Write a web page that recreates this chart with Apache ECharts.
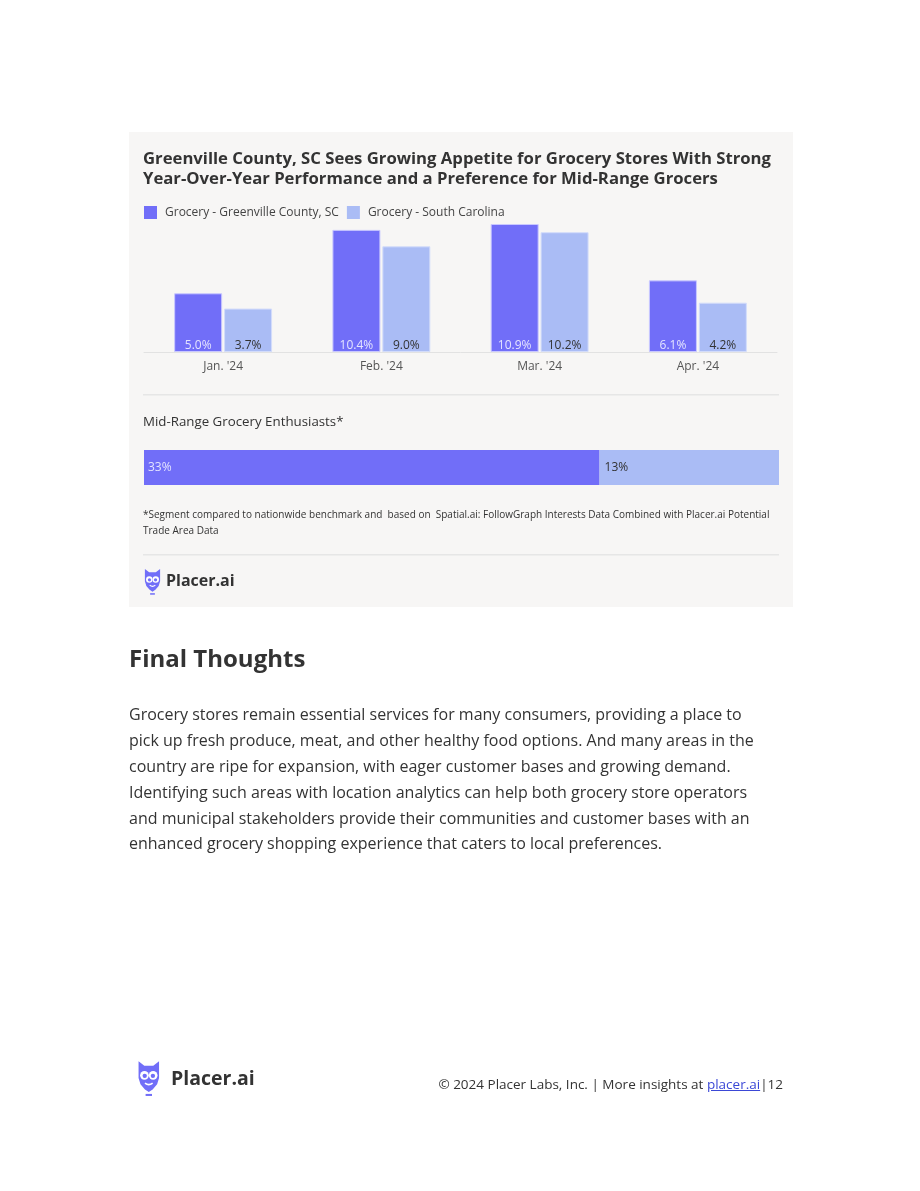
<!DOCTYPE html>
<html>
<head>
<meta charset="utf-8">
<title>Greenville County grocery</title>
<script src="https://cdn.jsdelivr.net/npm/echarts@6/dist/echarts.min.js"></script>
<style>
  html, body { margin: 0; padding: 0; background: #fff; }
  #page { position: relative; width: 920px; height: 1191px; }
  #chart { position: absolute; left: 0; top: 0; width: 920px; height: 1191px; }
  #copy {
    position: absolute; right: 137px; top: 1075px;
    font-family: 'Open Sans', sans-serif; font-size: 13.5px; color: #333;
  }
  #copy a { color: #3b48d6; text-decoration: underline; }
</style>
</head>
<body>
<div id="page">
  <div id="chart"></div>
  <div id="copy">© 2024 Placer Labs, Inc. | More insights at <a href="#">placer.ai</a>|12</div>
</div>
<script>
// monthly year-over-year visits change
const months = ['Jan. \'24', 'Feb. \'24', 'Mar. \'24', 'Apr. \'24']
const greenville = [5.0, 10.4, 10.9, 6.1]
const southCarolina = [3.7, 9.0, 10.2, 4.2]
const seriesNames = ['Grocery - Greenville County, SC', 'Grocery - South Carolina']

// mid-range grocery enthusiasts share
const midRangeGreenville = [33]
const midRangeSC = [13]

const colorMain = '#716ef8'
const colorLight = '#aabcf5'
const textColor = '#333333'
const font = "'Open Sans', 'Noto Sans', sans-serif"

const paragraph = [
  'Grocery stores remain essential services for many consumers, providing a place to',
  'pick up fresh produce, meat, and other healthy food options. And many areas in the',
  'country are ripe for expansion, with eager customer bases and growing demand.',
  'Identifying such areas with location analytics can help both grocery store operators',
  'and municipal stakeholders provide their communities and customer bases with an',
  'enhanced grocery shopping experience that caters to local preferences.'
].join('\n')

// little owl logo made of shapes
function owl(x, y, s) {
  return {
    type: 'group', x: x, y: y, scaleX: s, scaleY: s,
    children: [
      {
        type: 'polygon',
        shape: { points: [[2, 1], [6.5, 4.5], [13.5, 4.5], [18, 1], [18, 14], [16.5, 19], [13, 23], [10, 25], [7, 23], [3.5, 19], [2, 14]] },
        style: { fill: colorMain }
      },
      { type: 'circle', shape: { cx: 6.6, cy: 12, r: 3.4 }, style: { fill: '#fff' } },
      { type: 'circle', shape: { cx: 13.4, cy: 12, r: 3.4 }, style: { fill: '#fff' } },
      { type: 'circle', shape: { cx: 6.8, cy: 12.4, r: 1.7 }, style: { fill: colorMain } },
      { type: 'circle', shape: { cx: 13.2, cy: 12.4, r: 1.7 }, style: { fill: colorMain } },
      { type: 'bezierCurve', shape: { x1: 7, y1: 18, x2: 13, y2: 18, cpx1: 10, cpy1: 20.5 }, style: { fill: 'none', stroke: '#fff', lineWidth: 1.2 } },
      { type: 'rect', shape: { x: 7.5, y: 26.5, width: 5, height: 1.6 }, style: { fill: colorMain } }
    ]
  }
}

const chart = echarts.init(document.getElementById('chart'), null, { renderer: 'canvas' })

chart.setOption({
  animation: false,
  legend: {
    data: seriesNames,
    left: 144,
    top: 206,
    icon: 'rect',
    itemWidth: 13,
    itemHeight: 13,
    itemGap: 8,
    padding: 0,
    itemStyle: { borderWidth: 0 },
    textStyle: { fontFamily: font, fontSize: 12, color: '#444', padding: [0, 0, 0, 3] }
  },
  grid: [
    { left: 144, right: 143, top: 224, height: 128 },
    { left: 144, width: 635, top: 450, height: 35 }
  ],
  xAxis: [
    {
      gridIndex: 0,
      type: 'category',
      data: months,
      axisLine: { lineStyle: { color: '#e2e2e2' } },
      axisTick: { show: false },
      axisLabel: { fontFamily: font, fontSize: 12, color: '#555', margin: 9 }
    },
    { gridIndex: 1, type: 'value', min: 0, max: 46, show: false }
  ],
  yAxis: [
    { gridIndex: 0, type: 'value', min: 0, max: 10.9, show: false },
    { gridIndex: 1, type: 'category', data: ['Mid-Range'], show: false }
  ],
  series: [
    {
      name: seriesNames[0],
      type: 'bar',
      data: greenville,
      barWidth: 48,
      barGap: '4%',
      itemStyle: { color: colorMain, borderColor: '#c9c8ff', borderWidth: 1 },
      label: {
        show: true, position: 'insideBottom', distance: 0,
        formatter: p => p.value.toFixed(1) + '%',
        fontFamily: font, fontSize: 12, color: '#e4e4ff'
      }
    },
    {
      name: seriesNames[1],
      type: 'bar',
      data: southCarolina,
      barWidth: 48,
      itemStyle: { color: colorLight, borderColor: '#d3dcfa', borderWidth: 1 },
      label: {
        show: true, position: 'insideBottom', distance: 0,
        formatter: p => p.value.toFixed(1) + '%',
        fontFamily: font, fontSize: 12, color: textColor
      }
    },
    {
      name: 'Mid-Range Greenville',
      type: 'bar',
      xAxisIndex: 1, yAxisIndex: 1,
      stack: 'mid',
      data: midRangeGreenville,
      barWidth: 35,
      itemStyle: { color: colorMain },
      label: {
        show: true, position: 'insideLeft', distance: 4,
        formatter: '{c}%', fontFamily: font, fontSize: 12, color: '#e4e4ff'
      }
    },
    {
      name: 'Mid-Range SC',
      type: 'bar',
      xAxisIndex: 1, yAxisIndex: 1,
      stack: 'mid',
      data: midRangeSC,
      barWidth: 35,
      itemStyle: { color: colorLight },
      label: {
        show: true, position: 'insideLeft', distance: 5,
        formatter: '{c}%', fontFamily: font, fontSize: 12, color: textColor
      }
    }
  ],
  graphic: [
    // card background
    { type: 'rect', z: -10, shape: { x: 129, y: 132, width: 664, height: 475 }, style: { fill: '#f7f6f5' } },
    {
      type: 'text', x: 143, y: 149,
      style: {
        text: 'Greenville County, SC Sees Growing Appetite for Grocery Stores With Strong\nYear-Over-Year Performance and a Preference for Mid-Range Grocers',
        font: 'bold 16.7px ' + font, fill: textColor, lineHeight: 20
      }
    },
    { type: 'rect', shape: { x: 143, y: 394, width: 636, height: 1.5 }, style: { fill: '#e6e6e6' } },
    {
      type: 'text', x: 143, y: 416,
      style: { text: 'Mid-Range Grocery Enthusiasts*', font: '13.3px ' + font, fill: textColor }
    },
    {
      type: 'text', x: 143, y: 507,
      style: {
        text: '*Segment compared to nationwide benchmark and  based on  Spatial.ai: FollowGraph Interests Data Combined with Placer.ai Potential\nTrade Area Data',
        font: '10px ' + font, fill: textColor, lineHeight: 16
      }
    },
    { type: 'rect', shape: { x: 143, y: 554, width: 636, height: 1.5 }, style: { fill: '#e6e6e6' } },
    owl(143, 568, 0.95),
    { type: 'text', x: 166, y: 573, style: { text: 'Placer.ai', font: 'bold 16px ' + font, fill: '#333' } },
    // article text below the card
    { type: 'text', x: 129, y: 648, style: { text: 'Final Thoughts', font: 'bold 24px ' + font, fill: textColor } },
    {
      type: 'text', x: 129, y: 703,
      style: { text: paragraph, font: '16px ' + font, fill: textColor, lineHeight: 25.8 }
    },
    // footer
    owl(136, 1060, 1.28),
    { type: 'text', x: 171, y: 1069, style: { text: 'Placer.ai', font: 'bold 19.5px ' + font, fill: '#333' } }
  ]
})
</script>
</body>
</html>
